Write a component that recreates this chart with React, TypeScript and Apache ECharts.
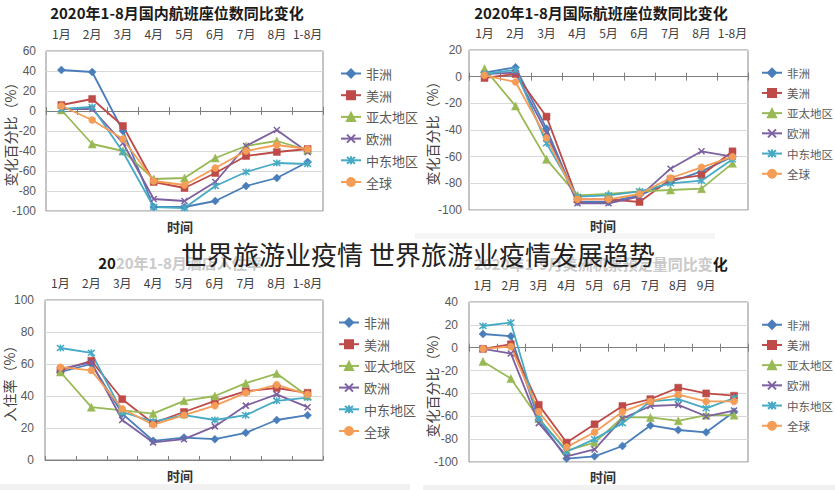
import React, { useEffect, useRef } from 'react';
import * as echarts from 'echarts';

const FONT = "'Liberation Sans', 'Noto Sans CJK SC', sans-serif";
const CJK = "'Noto Sans CJK SC', sans-serif";

const seriesNames = ['非洲', '美洲', '亚太地区', '欧洲', '中东地区', '全球'];
const seriesColors = ['#4A7EBB', '#BE4B48', '#98B954', '#7D60A0', '#46AAC5', '#F59D56'];

const months8 = ['1月', '2月', '3月', '4月', '5月', '6月', '7月', '8月', '1-8月'];
const months9 = ['1月', '2月', '3月', '4月', '5月', '6月', '7月', '8月', '9月', '1-9月'];

// Chart 1: 2020年1-8月国内航班座位数同比变化
const domAfrica = [41, 39, -20, -96, -96, -90, -75, -67, -51];
const domAmericas = [6, 12, -15, -71, -77, -62, -45, -41, -38];
const domAsiaPac = [1, -33, -40, -68, -67, -47, -35, -30, -39];
const domEurope = [2, 2, -32, -88, -90, -71, -35, -19, -41];
const domMidEast = [2, 4, -41, -96, -97, -75, -61, -52, -53];
const domGlobal = [5, -9, -28, -70, -74, -57, -40, -34, -38];

// Chart 2: 2020年1-8月国际航班座位数同比变化
const intAfrica = [3, 7, -39, -94, -94, -89, -79, -71, -60];
const intAmericas = [-1, 2, -30, -92, -92, -94, -77, -74, -56];
const intAsiaPac = [6, -22, -62, -89, -88, -86, -85, -84, -65];
const intEurope = [2, 3, -42, -95, -95, -90, -69, -56, -60];
const intMidEast = [2, 5, -50, -90, -89, -86, -80, -78, -62];
const intGlobal = [1, -4, -46, -92, -92, -88, -76, -68, -60];

// Chart 3: 2020年1-8月酒店入住率
const hotAfrica = [55, 60, 29, 12, 14, 13, 17, 25, 28];
const hotAmericas = [56, 62, 38, 23, 30, 37, 43, 45, 42];
const hotAsiaPac = [55, 33, 31, 29, 37, 40, 48, 54, 40];
const hotEurope = [57, 61, 25, 11, 13, 21, 34, 41, 33];
const hotMidEast = [70, 67, 30, 24, 28, 25, 28, 37, 39];
const hotGlobal = [58, 56, 32, 22, 28, 34, 42, 47, 41];

// Chart 4: 2020年1-9月机票预定量同比变化
const bkAfrica = [12, 10, -63, -97, -95, -86, -68, -72, -74, -56];
const bkAmericas = [-1, 3, -50, -83, -67, -51, -45, -35, -40, -42];
const bkAsiaPac = [-12, -27, -62, -90, -83, -61, -61, -64, -59, -59];
const bkEurope = [-1, -5, -66, -95, -89, -62, -51, -50, -60, -55];
const bkMidEast = [19, 22, -62, -91, -80, -66, -47, -45, -53, -44];
const bkGlobal = [-1, 1, -56, -87, -74, -56, -47, -41, -47, -47];

const chartTitles = [
  '2020年1-8月国内航班座位数同比变化',
  '2020年1-8月国际航班座位数同比变化',
  '2020年1-8月酒店入住率',
  '2020年1-9月美洲机票预定量同比变化',
];
const yNames = ['变化百分比（%）', '变化百分比（%）', '入住率（%）', '变化百分比（%）'];
const overlayText = '世界旅游业疫情 世界旅游业疫情发展趋势';
const xName = '时间';

const X_SYM = 'path://M0,0L10,10M10,0L0,10';
const STAR_SYM = 'path://M0,0L10,10M10,0L0,10M5,-1L5,11';

export default function App() {
  const ref = useRef<HTMLDivElement>(null);
  useEffect(() => {
    if (!ref.current) return;
    const chart = echarts.init(ref.current, undefined, { renderer: 'svg' });

    const charts = [
      { cats: months8, data: [domAfrica, domAmericas, domAsiaPac, domEurope, domMidEast, domGlobal], min: -100, max: 60,
        grid: { left: 46, top: 51, width: 277, height: 160 }, labelMargin: 10, nameGap: 29, legend: { left: 335, top: 62 }, legendFont: 13, hideLast: false, bottomTicks: true },
      { cats: months8, data: [intAfrica, intAmericas, intAsiaPac, intEurope, intMidEast, intGlobal], min: -100, max: 20,
        grid: { left: 469, top: 50, width: 279, height: 160 }, labelMargin: 7, nameGap: 30, legend: { left: 756, top: 62 }, legendFont: 11.5, hideLast: false, bottomTicks: true },
      { cats: months8, data: [hotAfrica, hotAmericas, hotAsiaPac, hotEurope, hotMidEast, hotGlobal], min: 0, max: 100,
        grid: { left: 45, top: 300, width: 278, height: 160 }, labelMargin: 11, nameGap: 29, legend: { left: 333, top: 311 }, legendFont: 13, hideLast: false, bottomTicks: false },
      { cats: months9, data: [bkAfrica, bkAmericas, bkAsiaPac, bkEurope, bkMidEast, bkGlobal], min: -100, max: 40,
        grid: { left: 469, top: 302, width: 279, height: 160 }, labelMargin: 11, nameGap: 30, legend: { left: 756, top: 314 }, legendFont: 11.5, hideLast: true, bottomTicks: true },
    ];

    const symbols = ['diamond', 'rect', 'triangle', X_SYM, STAR_SYM, 'circle'];
    const symSizes = [8, 7, 8, 6, 7, 7];

    const grid: any[] = [];
    const xAxis: any[] = [];
    const yAxis: any[] = [];
    const legend: any[] = [];
    const series: any[] = [];

    charts.forEach((c, i) => {
      grid.push({ ...c.grid, show: true, borderColor: '#8a8a8a', borderWidth: 1, containLabel: false });
      yAxis.push({
        gridIndex: i, type: 'value', min: c.min, max: c.max, interval: 20,
        axisLine: { show: false }, axisTick: { show: false },
        splitLine: { lineStyle: { color: '#d9d9d9', width: 1 } },
        axisLabel: { fontSize: 12, color: '#595959', margin: c.labelMargin, fontFamily: FONT },
        name: yNames[i], nameLocation: 'middle', nameRotate: 90, nameGap: c.nameGap, nameMoveOverlap: false,
        nameTextStyle: { fontSize: 14, color: '#404040', fontFamily: CJK },
      });
      yAxis.push({ gridIndex: i, type: 'value', min: c.min, max: c.max, interval: 20, show: false });
      const last = c.cats[c.cats.length - 1];
      xAxis.push({
        gridIndex: i, type: 'category', data: c.cats, position: 'top', boundaryGap: true,
        axisLine: { show: false, onZero: false }, axisTick: { show: false }, splitLine: { show: false },
        axisLabel: {
          interval: 0, fontSize: 12, color: '#404040', margin: 12, fontFamily: CJK,
          formatter: (v: string) => (c.hideLast && v === last ? '' : v),
        },
      });
      xAxis.push({
        gridIndex: i, type: 'category', data: c.cats, position: 'bottom', boundaryGap: true,
        axisLine: { show: true, onZero: true, onZeroAxisIndex: 2 * i, lineStyle: { color: '#7f7f7f', width: 1 } },
        axisTick: { show: c.bottomTicks, interval: 0, length: 4, inside: false, lineStyle: { color: '#7f7f7f' } },
        axisLabel: { show: false }, splitLine: { show: false },
      });
      xAxis.push({
        gridIndex: i, type: 'category', data: c.cats, position: 'bottom', boundaryGap: true,
        axisLine: { show: false, onZero: true, onZeroAxisIndex: 2 * i + 1 },
        axisTick: { show: true, interval: 0, length: 4, inside: true, lineStyle: { color: '#7f7f7f' } },
        axisLabel: { show: false }, splitLine: { show: false },
      });
      legend.push({
        data: seriesNames, orient: 'vertical', left: c.legend.left, top: c.legend.top,
        itemWidth: 20, itemHeight: 10, itemGap: 8.7, selectedMode: false,
        textStyle: { fontSize: c.legendFont, color: '#595959', fontFamily: CJK },
      });
      seriesNames.forEach((n, j) => {
        const isStroke = j === 3 || j === 4;
        series.push({
          type: 'line', name: n, xAxisIndex: 3 * i + 1, yAxisIndex: 2 * i, data: c.data[j],
          symbol: symbols[j], symbolSize: symSizes[j], showSymbol: true,
          lineStyle: { color: seriesColors[j], width: 1.8 },
          itemStyle: { color: seriesColors[j], borderColor: seriesColors[j], borderWidth: isStroke ? 1.5 : 0.5 },
          emphasis: { disabled: true }, silent: true,
        });
      });
    });

    const txt = (x: number, y: number, text: string, font: string, fill: string, extra: any = {}) => ({
      type: 'text', x, y, z: 10,
      style: { text, font, fill, align: 'center', verticalAlign: 'middle', textAlign: 'center', textVerticalAlign: 'middle', ...extra },
    });

    const graphic: any[] = [
      { type: 'rect', shape: { x: 0, y: 484, width: 410, height: 6 }, style: { fill: '#f1f1f1' }, z: 0 },
      { type: 'rect', shape: { x: 423, y: 485, width: 412, height: 5 }, style: { fill: '#f1f1f1' }, z: 0 },
      { type: 'rect', shape: { x: 415, y: 233, width: 300, height: 6 }, style: { fill: '#f6f6f6' }, z: 0 },
      txt(177, 12, chartTitles[0], `bold 15px ${CJK}`, '#1a1a1a'),
      txt(601, 12, chartTitles[1], `bold 15px ${CJK}`, '#1a1a1a'),
      {
        type: 'text', x: 180, y: 262, z: 10,
        style: {
          text: `{d|${chartTitles[2].slice(0, 2)}}{l|${chartTitles[2].slice(2)}}`,
          align: 'center', verticalAlign: 'middle', textAlign: 'center', textVerticalAlign: 'middle',
          font: `bold 15px ${CJK}`,
          rich: {
            d: { fill: '#1a1a1a', font: `bold 15px ${CJK}` },
            l: { fill: '#c9c9c9', font: `bold 15px ${CJK}` },
          },
        },
      },
      {
        type: 'text', x: 601, y: 263, z: 10,
        style: {
          text: `{l|${chartTitles[3].slice(0, -1)}}{d|${chartTitles[3].slice(-1)}}`,
          align: 'center', verticalAlign: 'middle', textAlign: 'center', textVerticalAlign: 'middle',
          font: `bold 15px ${CJK}`,
          rich: {
            d: { fill: '#1a1a1a', font: `bold 15px ${CJK}` },
            l: { fill: '#c9c9c9', font: `bold 15px ${CJK}` },
          },
        },
      },
      txt(180, 226, xName, `bold 13px ${CJK}`, '#333'),
      txt(603, 225, xName, `bold 13px ${CJK}`, '#333'),
      txt(180, 475, xName, `bold 13px ${CJK}`, '#333'),
      txt(603, 476, xName, `bold 13px ${CJK}`, '#333'),
      { ...txt(418, 253, overlayText, `26px ${CJK}`, '#222'), z: 100 },
    ];

    chart.setOption({
      animation: false,
      backgroundColor: '#ffffff',
      textStyle: { fontFamily: FONT },
      grid, xAxis, yAxis, legend, series, graphic,
    });
    return () => chart.dispose();
  }, []);
  return <div ref={ref} style={{ position: 'fixed', left: 0, top: 0, width: 835, height: 490 }} />;
}
